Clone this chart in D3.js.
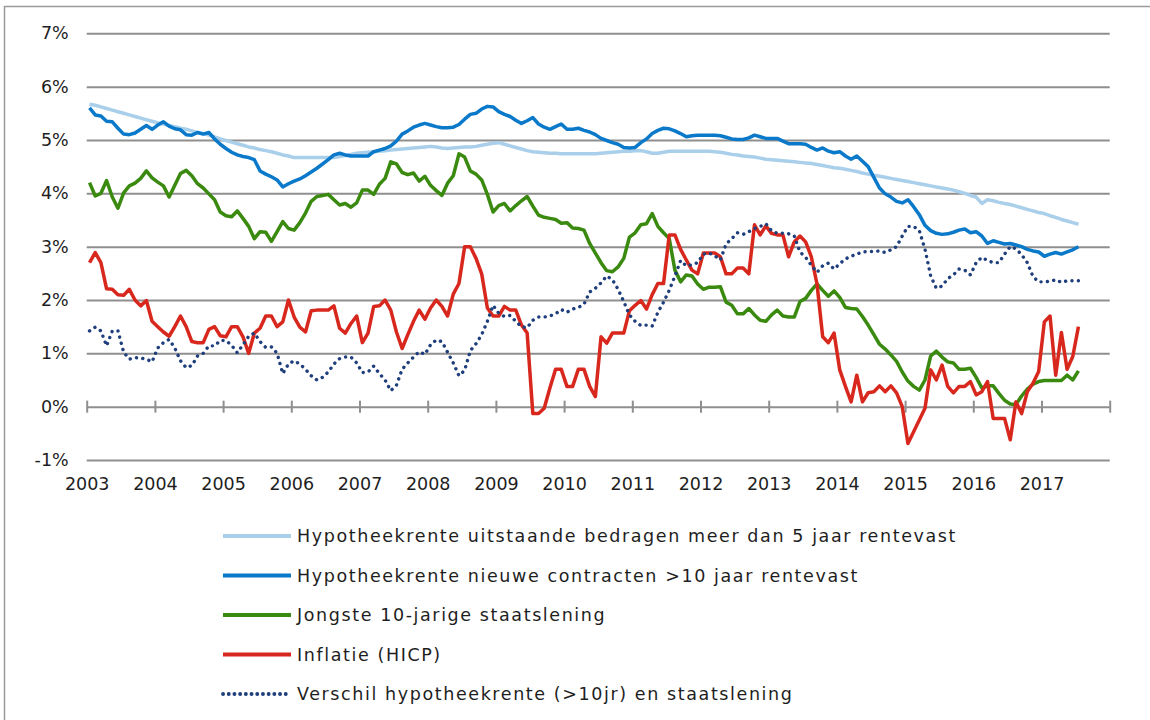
<!DOCTYPE html>
<html>
<head>
<meta charset="utf-8">
<script src="https://cdn.jsdelivr.net/npm/d3@7"></script>
<style>
  body { margin: 0; background: #fff; }
  svg text { font-family: 'DejaVu Sans', Verdana, sans-serif; fill: #1e1e1e; }
</style>
</head>
<body>
<script>
// monthly values, jan 2003 - jul 2017
let years = [2003, 2004, 2005, 2006, 2007, 2008, 2009, 2010, 2011, 2012, 2013, 2014, 2015, 2016, 2017];
let yTicks = [-1, 0, 1, 2, 3, 4, 5, 6, 7];

let uitstaand = [
  5.67,5.65,5.62,5.59,5.56,5.53,5.50,5.47,5.44,5.41,5.38,5.35,
  5.32,5.30,5.27,5.25,5.22,5.20,5.17,5.14,5.12,5.09,5.06,5.02,
  4.99,4.96,4.93,4.90,4.87,4.85,4.82,4.80,4.78,4.75,4.72,4.70,
  4.67,4.67,4.67,4.67,4.67,4.67,4.67,4.67,4.69,4.71,4.73,4.75,
  4.76,4.77,4.78,4.79,4.80,4.81,4.82,4.83,4.84,4.85,4.86,4.87,
  4.88,4.87,4.85,4.84,4.85,4.86,4.87,4.87,4.88,4.90,4.92,4.94,
  4.95,4.92,4.89,4.86,4.83,4.80,4.78,4.77,4.76,4.75,4.75,4.74,
  4.74,4.74,4.74,4.74,4.74,4.74,4.75,4.76,4.77,4.78,4.79,4.79,
  4.80,4.80,4.78,4.75,4.75,4.77,4.79,4.79,4.79,4.79,4.79,4.79,
  4.79,4.79,4.78,4.77,4.75,4.73,4.72,4.70,4.69,4.68,4.66,4.64,
  4.63,4.62,4.61,4.60,4.59,4.58,4.57,4.56,4.54,4.52,4.50,4.48,
  4.47,4.45,4.43,4.41,4.38,4.36,4.34,4.32,4.30,4.28,4.26,4.24,
  4.22,4.20,4.18,4.16,4.14,4.12,4.10,4.08,4.06,4.03,4.00,3.96,
  3.93,3.81,3.88,3.86,3.83,3.81,3.79,3.76,3.73,3.70,3.67,3.64,
  3.62,3.58,3.55,3.51,3.48,3.45,3.42
];

let nieuw = [
  5.60,5.47,5.45,5.35,5.34,5.22,5.11,5.10,5.13,5.20,5.27,5.20,
  5.28,5.34,5.26,5.21,5.19,5.10,5.09,5.14,5.11,5.14,5.02,4.92,
  4.84,4.77,4.72,4.69,4.67,4.63,4.42,4.36,4.31,4.25,4.12,4.18,
  4.23,4.27,4.33,4.40,4.47,4.55,4.63,4.72,4.75,4.72,4.70,4.70,
  4.70,4.70,4.78,4.81,4.84,4.89,4.98,5.11,5.17,5.24,5.28,5.31,
  5.28,5.25,5.23,5.23,5.24,5.29,5.39,5.48,5.50,5.58,5.63,5.62,
  5.53,5.48,5.44,5.37,5.31,5.36,5.42,5.30,5.24,5.20,5.25,5.30,
  5.20,5.20,5.22,5.18,5.15,5.10,5.03,4.99,4.95,4.92,4.86,4.85,
  4.86,4.95,5.02,5.12,5.18,5.22,5.21,5.17,5.12,5.06,5.08,5.09,
  5.09,5.09,5.09,5.08,5.05,5.02,5.01,5.01,5.04,5.09,5.06,5.03,
  5.03,5.03,4.98,4.93,4.93,4.93,4.92,4.86,4.81,4.85,4.79,4.76,
  4.78,4.70,4.64,4.70,4.60,4.50,4.30,4.10,3.99,3.93,3.85,3.82,
  3.88,3.75,3.60,3.40,3.30,3.25,3.23,3.24,3.27,3.31,3.33,3.26,
  3.28,3.20,3.06,3.11,3.08,3.05,3.06,3.03,3.00,2.95,2.92,2.90,
  2.82,2.86,2.89,2.86,2.90,2.94,3.00
];

let staatslening = [
  4.20,3.95,4.00,4.24,3.93,3.72,4.01,4.14,4.19,4.28,4.42,4.29,
  4.21,4.14,3.93,4.15,4.37,4.43,4.33,4.18,4.10,3.99,3.88,3.65,
  3.58,3.56,3.67,3.53,3.38,3.15,3.28,3.27,3.10,3.28,3.47,3.34,
  3.31,3.45,3.63,3.85,3.94,3.96,3.98,3.88,3.78,3.81,3.74,3.82,
  4.06,4.06,3.98,4.17,4.28,4.59,4.55,4.39,4.35,4.38,4.23,4.32,
  4.15,4.05,3.96,4.19,4.33,4.74,4.68,4.42,4.36,4.25,3.98,3.65,
  3.77,3.81,3.67,3.77,3.86,3.94,3.76,3.59,3.55,3.53,3.51,3.44,
  3.45,3.35,3.34,3.31,3.06,2.88,2.70,2.55,2.53,2.62,2.78,3.18,
  3.26,3.41,3.43,3.62,3.38,3.26,3.15,2.56,2.34,2.47,2.45,2.30,
  2.20,2.24,2.24,2.25,1.96,1.90,1.74,1.74,1.84,1.72,1.62,1.60,
  1.72,1.81,1.70,1.68,1.68,1.97,2.03,2.18,2.30,2.18,2.07,2.17,
  2.05,1.86,1.84,1.83,1.69,1.53,1.35,1.17,1.08,0.97,0.85,0.65,
  0.48,0.38,0.31,0.50,0.95,1.04,0.93,0.84,0.82,0.70,0.70,0.72,
  0.55,0.35,0.39,0.39,0.25,0.12,0.05,0.04,0.20,0.33,0.42,0.47,
  0.49,0.49,0.49,0.49,0.59,0.50,0.67
];

let inflatie = [
  2.70,2.89,2.70,2.21,2.20,2.10,2.09,2.20,2.00,1.89,1.99,1.60,
  1.50,1.40,1.32,1.50,1.70,1.50,1.22,1.20,1.20,1.45,1.50,1.33,
  1.31,1.50,1.50,1.31,1.00,1.38,1.47,1.70,1.70,1.50,1.59,2.00,
  1.68,1.49,1.40,1.80,1.81,1.81,1.81,1.89,1.47,1.38,1.56,1.70,
  1.20,1.38,1.88,1.89,2.00,1.81,1.40,1.09,1.35,1.60,1.81,1.64,
  1.85,2.00,1.88,1.70,2.11,2.31,3.00,3.00,2.78,2.49,1.85,1.70,
  1.70,1.88,1.81,1.81,1.53,1.38,-0.13,-0.13,-0.03,0.35,0.70,0.70,
  0.38,0.38,0.70,0.70,0.38,0.19,1.31,1.19,1.38,1.38,1.38,1.80,
  1.90,1.99,1.83,2.10,2.31,2.31,3.22,3.22,2.95,2.75,2.56,2.49,
  2.88,2.88,2.88,2.81,2.49,2.49,2.60,2.60,2.49,3.41,3.22,3.39,
  3.25,3.22,3.22,2.81,3.09,3.20,3.09,2.81,2.30,1.31,1.20,1.38,
  0.69,0.38,0.09,0.59,0.09,0.26,0.28,0.39,0.28,0.39,0.26,0.00,
  -0.69,-0.47,-0.25,-0.03,0.69,0.50,0.78,0.38,0.26,0.38,0.38,0.47,
  0.22,0.28,0.47,-0.22,-0.22,-0.22,-0.62,0.09,-0.13,0.28,0.44,0.66,
  1.59,1.70,0.59,1.39,0.70,0.94,1.50
];

let verschil = [
  1.42,1.49,1.42,1.14,1.42,1.42,1.02,0.89,0.92,0.91,0.89,0.84,
  1.10,1.20,1.26,1.10,0.86,0.73,0.77,0.95,1.00,1.14,1.14,1.24,
  1.24,1.15,1.01,1.16,1.32,1.38,1.22,1.11,1.12,1.00,0.62,0.80,
  0.86,0.80,0.70,0.58,0.50,0.55,0.65,0.80,0.90,0.93,0.93,0.82,
  0.64,0.65,0.76,0.62,0.50,0.30,0.40,0.70,0.82,0.93,1.03,0.98,
  1.16,1.25,1.22,1.02,0.82,0.58,0.68,1.05,1.18,1.35,1.60,1.90,
  1.75,1.69,1.71,1.60,1.50,1.48,1.62,1.68,1.68,1.70,1.74,1.82,
  1.77,1.83,1.86,1.92,2.15,2.22,2.32,2.45,2.38,2.20,1.97,1.72,
  1.60,1.52,1.53,1.51,1.77,1.96,2.18,2.45,2.74,2.64,2.66,2.70,
  2.86,2.88,2.83,2.75,3.05,3.15,3.26,3.23,3.28,3.34,3.38,3.43,
  3.30,3.25,3.25,3.24,3.20,2.90,2.80,2.65,2.52,2.64,2.69,2.58,
  2.68,2.77,2.82,2.86,2.90,2.91,2.91,2.92,2.89,2.94,3.00,3.20,
  3.38,3.38,3.30,2.95,2.45,2.22,2.26,2.40,2.47,2.58,2.56,2.47,
  2.70,2.80,2.74,2.70,2.70,2.86,3.00,2.96,2.85,2.70,2.44,2.34,
  2.34,2.35,2.38,2.33,2.36,2.36,2.36
];

let seriesNames = [
  'Hypotheekrente uitstaande bedragen meer dan 5 jaar rentevast',
  'Hypotheekrente nieuwe contracten >10 jaar rentevast',
  'Jongste 10-jarige staatslening',
  'Inflatie (HICP)',
  'Verschil hypotheekrente (>10jr) en staatslening'
];

let series = [
  {name: seriesNames[0], values: uitstaand, color: '#a9cfea', dash: null},
  {name: seriesNames[1], values: nieuw, color: '#0a79c9', dash: null},
  {name: seriesNames[2], values: staatslening, color: '#3a8a0f', dash: null},
  {name: seriesNames[3], values: inflatie, color: '#d8281e', dash: null},
  {name: seriesNames[4], values: verschil, color: '#1f3f7c', dash: '0.1 6.3'}
];

let svgWidth = 1150, svgHeight = 720;
let plotLeft = 86.7, plotRight = 1109.7, plotTop = 33.3, plotBottom = 460;

let svg = d3.select('body').append('svg')
  .attr('width', svgWidth).attr('height', svgHeight)

svg.append('rect')
  .attr('x', 4.5).attr('y', 6.5)
  .attr('width', svgWidth).attr('height', svgHeight)
  .attr('fill', '#fff').attr('stroke', '#9a9a9a').attr('stroke-width', 1.5)

let xScale = d3.scaleLinear()
  .domain([0, years.length * 12])
  .range([plotLeft, plotRight])

let yScale = d3.scaleLinear()
  .domain([-1, 7])
  .range([plotBottom, plotTop])

// gridlines + y labels
let yAxis = d3.axisLeft(yScale)
  .tickValues(yTicks)
  .tickSize(-(plotRight - plotLeft))
  .tickPadding(18)
  .tickFormat(d => d + '%')

let gy = svg.append('g').attr('transform', 'translate(' + plotLeft + ',0)').call(yAxis)
gy.select('.domain').remove()
gy.selectAll('line').attr('stroke', '#8f8f8f').attr('stroke-width', 2)
gy.selectAll('text').attr('font-size', '17.5px').attr('fill', '#1e1e1e')

// year ticks crossing the 0% line
let tickAxis = d3.axisBottom(xScale)
  .tickValues(d3.range(0, years.length * 12 + 1, 12))
  .tickSize(12)
  .tickFormat('')

let gt = svg.append('g').attr('transform', 'translate(0,' + (yScale(0) - 6) + ')').call(tickAxis)
gt.select('.domain').remove()
gt.selectAll('line').attr('stroke', '#8f8f8f').attr('stroke-width', 2)

// year labels
let labelAxis = d3.axisBottom(xScale)
  .tickValues(years.map((d, i) => i * 12))
  .tickSize(0)
  .tickPadding(0)
  .tickFormat((d, i) => years[i])

let gl = svg.append('g').attr('transform', 'translate(0,' + 478 + ')').call(labelAxis)
gl.select('.domain').remove()
gl.selectAll('text').attr('font-size', '17.5px').attr('fill', '#1e1e1e')

let line = d3.line()
  .x((d, i) => xScale(i + 0.5))
  .y(d => yScale(d))

svg.selectAll('path.series')
  .data(series)
  .enter()
  .append('path')
  .attr('class', 'series')
  .attr('d', d => line(d.values))
  .attr('fill', 'none')
  .attr('stroke', d => d.color)
  .attr('stroke-width', d => d.dash ? 3.4 : 3.5)
  .attr('stroke-linejoin', 'round')
  .attr('stroke-linecap', d => d.dash ? 'round' : 'butt')
  .attr('stroke-dasharray', d => d.dash)

// legend
let legend = svg.selectAll('g.legend')
  .data(series)
  .enter()
  .append('g')
  .attr('class', 'legend')
  .attr('transform', (d, i) => 'translate(0,' + (536 + i * 39.5) + ')')

legend.append('line')
  .attr('x1', 223).attr('x2', 291)
  .attr('stroke', d => d.color)
  .attr('stroke-width', 3.8)
  .attr('stroke-linecap', d => d.dash ? 'round' : 'butt')
  .attr('stroke-dasharray', d => d.dash ? '0.1 5.6' : null)

legend.append('text')
  .attr('x', 297)
  .attr('dy', '0.35em')
  .attr('font-size', '17.5px')
  .attr('letter-spacing', '1.6px')
  .text(d => d.name)
</script>
</body>
</html>
